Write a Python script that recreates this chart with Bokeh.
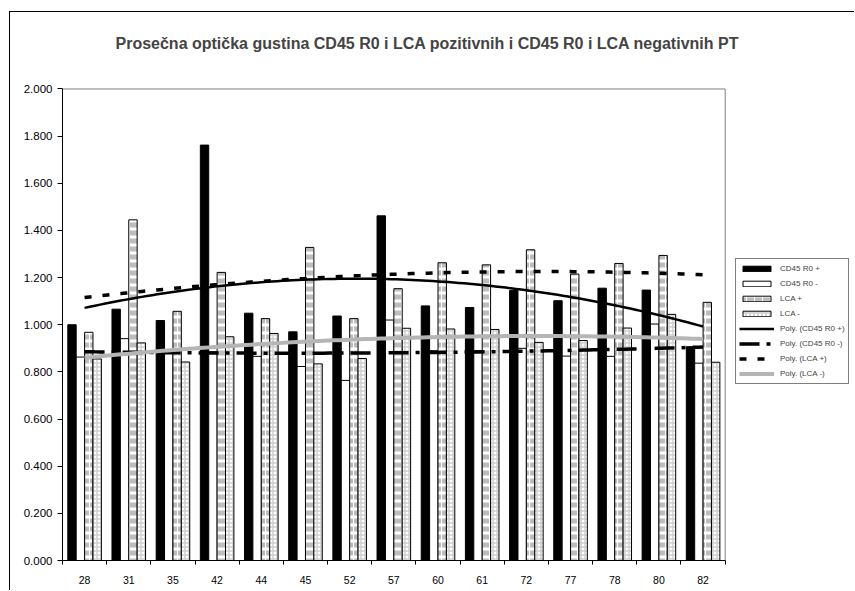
import numpy as np
from bokeh.plotting import figure
from bokeh.models import (ColumnDataSource, Range1d, FixedTicker, NumeralTickFormatter,
                          Legend, LegendItem, Title)
from bokeh.transform import dodge
from bokeh.embed import file_html
from bokeh.resources import INLINE

# ---- data ----
categories = ["28", "31", "35", "42", "44", "45", "52", "57", "60", "61", "72", "77", "78", "80", "82"]
cd45_pos = [1.000, 1.066, 1.018, 1.762, 1.049, 0.970, 1.037, 1.462, 1.080, 1.073, 1.145, 1.102, 1.155, 1.147, 0.907]
cd45_neg = [0.863, 0.941, 0.883, 0.885, 0.866, 0.823, 0.764, 1.020, 0.890, 0.890, 0.900, 0.867, 0.866, 1.003, 0.837]
lca_pos = [0.968, 1.445, 1.057, 1.222, 1.026, 1.328, 1.026, 1.153, 1.263, 1.254, 1.318, 1.215, 1.260, 1.294, 1.095]
lca_neg = [0.855, 0.923, 0.842, 0.949, 0.963, 0.834, 0.857, 0.985, 0.982, 0.980, 0.925, 0.933, 0.986, 1.044, 0.841]
y_ticks = [0.0, 0.2, 0.4, 0.6, 0.8, 1.0, 1.2, 1.4, 1.6, 1.8, 2.0]
y_max = 2.0
title_text = "Prosečna optička gustina CD45 R0 i LCA pozitivnih i CD45 R0 i LCA negativnih PT"

n = len(categories)
x = np.arange(1, n + 1)
source = ColumnDataSource(dict(x=x, cd45_pos=cd45_pos, cd45_neg=cd45_neg,
                               lca_pos=lca_pos, lca_neg=lca_neg))

FONT = "Liberation Sans"

# frame spans to the right edge so that the legend (drawn inside the frame) is not clipped
p = figure(width=845, height=579, x_range=Range1d(0.5, 18.45), y_range=Range1d(0, 2.019),
           output_backend="svg", toolbar_location=None,
           min_border_left=52, min_border_right=0, min_border_top=72, min_border_bottom=31)
p.styles = {"margin-left": "10px", "margin-top": "12px",
            "box-shadow": "-1px -1px 0 0 black"}

# real title, with a spacer title between it and the frame
p.title.text = title_text
p.title.align = "left"
p.title.offset = 53
p.title.text_font = FONT
p.title.text_font_size = "16px"
p.title.text_font_style = "bold"
p.title.standoff = 0
spacer = Title(text=" ", text_font_size="1px", standoff=30)
p.add_layout(spacer, "above")

p.xgrid.visible = False
p.ygrid.visible = False
p.outline_line_color = None
p.background_fill_color = "white"
p.border_fill_color = "white"

# plot-area border (gray, top and right)
p.segment(x0=[0.5, n + 0.5], y0=[y_max, 0], x1=[n + 0.5, n + 0.5], y1=[y_max, y_max],
          line_color="#808080", line_width=1)

# ---- bars ----
w = 0.19
r1 = p.vbar(x=dodge("x", -0.285), top="cd45_pos", width=w, source=source,
            fill_color="black", line_color="black", line_width=1)
r2 = p.vbar(x=dodge("x", -0.095), top="cd45_neg", width=w, source=source,
            fill_color="white", line_color="black", line_width=1)
r3 = p.vbar(x=dodge("x", 0.095), top="lca_pos", width=w, source=source,
            fill_color="white", line_color="black", line_width=1,
            hatch_pattern="horizontal_dash", hatch_color="#bdbdbd", hatch_scale=8, hatch_weight=5)
r4 = p.vbar(x=dodge("x", 0.285), top="lca_neg", width=w, source=source,
            fill_color="white", line_color="black", line_width=1,
            hatch_pattern="cross", hatch_color="#cfcfcf", hatch_scale=4, hatch_weight=1.5)

# ---- polynomial (order 2) trend lines, as in the spreadsheet ----
xf = np.linspace(1, n, 120)
def trend(vals):
    c = np.polyfit(x, vals, 2)
    return np.polyval(c, xf)

l1 = p.line(xf, trend(cd45_pos), line_color="black", line_width=2.5)
l2 = p.line(xf, trend(cd45_neg), line_color="black", line_width=3.5, line_dash="20 7 4 7")
l3 = p.line(xf, trend(lca_pos), line_color="black", line_width=3.5, line_dash="7 11")
l4 = p.line(xf, trend(lca_neg), line_color="#b5b5b5", line_width=4)

# ---- axes ----
p.xaxis.bounds = (0.5, n + 0.5)
p.xaxis.ticker = FixedTicker(ticks=list(x), minor_ticks=list(np.arange(0.5, n + 1, 1.0)))
p.xaxis.major_label_overrides = {int(i): c for i, c in zip(x, categories)}
p.xaxis.major_tick_out = 0
p.xaxis.major_tick_in = 0
p.xaxis.minor_tick_out = 4
p.xaxis.minor_tick_in = 0
p.xaxis.axis_line_color = "black"
p.xaxis.minor_tick_line_color = "black"
p.xaxis.major_label_text_font = FONT
p.xaxis.major_label_text_font_size = "10.5px"
p.xaxis.major_label_text_color = "black"
p.xaxis.major_label_standoff = 11

p.yaxis.bounds = (0, y_max)
p.yaxis.ticker = FixedTicker(ticks=y_ticks)
p.yaxis.formatter = NumeralTickFormatter(format="0.000")
p.yaxis.major_tick_out = 5
p.yaxis.major_tick_in = 0
p.yaxis.minor_tick_line_color = None
p.yaxis.axis_line_color = "black"
p.yaxis.major_tick_line_color = "black"
p.yaxis.major_label_text_font = FONT
p.yaxis.major_label_text_font_size = "11.5px"
p.yaxis.major_label_text_color = "black"
p.yaxis.major_label_standoff = 5

# ---- legend ----
legend = Legend(items=[
    LegendItem(label="CD45 R0 +", renderers=[r1]),
    LegendItem(label="CD45 R0 -", renderers=[r2]),
    LegendItem(label="LCA +", renderers=[r3]),
    LegendItem(label="LCA -", renderers=[r4]),
    LegendItem(label="Poly. (CD45 R0 +)", renderers=[l1]),
    LegendItem(label="Poly. (CD45 R0 -)", renderers=[l2]),
    LegendItem(label="Poly. (LCA +)", renderers=[l3]),
    LegendItem(label="Poly. (LCA -)", renderers=[l4]),
], location=(673, 176))
legend.glyph_width = 35
legend.glyph_height = 7
legend.label_height = 13
legend.spacing = 2
legend.padding = 3
legend.margin = 0
legend.label_standoff = 6
legend.label_text_font = FONT
legend.label_text_font_size = "8px"
legend.border_line_color = "black"
legend.border_line_width = 1
legend.background_fill_alpha = 1
p.add_layout(legend)

open("out.html", "w").write(file_html(p, INLINE))
